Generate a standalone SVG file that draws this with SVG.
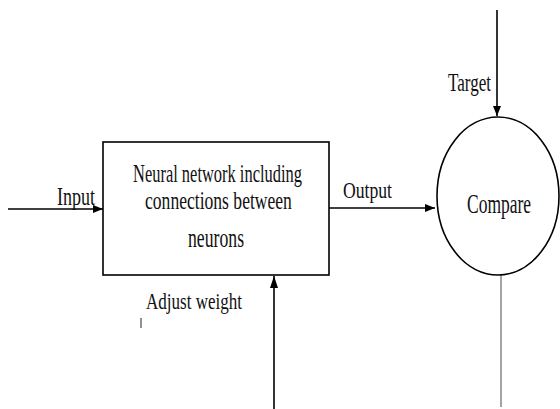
<svg xmlns="http://www.w3.org/2000/svg" width="560" height="409" viewBox="0 0 560 409">
  <defs>
    <marker id="arr" viewBox="0 0 10 8" refX="10" refY="4" markerWidth="10" markerHeight="8" markerUnits="userSpaceOnUse" orient="auto">
      <path d="M0,0 L10,4 L0,8 Z" fill="#000"/>
    </marker>
    <marker id="arrBig" viewBox="0 0 12 8" refX="12" refY="4" markerWidth="12" markerHeight="8" markerUnits="userSpaceOnUse" orient="auto">
      <path d="M0,0 L12,4 L0,8 Z" fill="#000"/>
    </marker>
  </defs>
  <style>
    text { font-family: "Liberation Serif", "Times New Roman", serif; fill: #111; }
    .edge { stroke: #000; stroke-width: 1.6; fill: none; }
    .shape { stroke: #000; stroke-width: 1.6; fill: #fff; }
  </style>
  <rect width="560" height="409" fill="#fff"/>

  <g id="connectors">
    <line class="edge" x1="8" y1="209" x2="103" y2="209" marker-end="url(#arr)"/>
    <line class="edge" x1="329" y1="208" x2="435" y2="208" marker-end="url(#arr)"/>
    <line class="edge" x1="497" y1="10" x2="497" y2="116" marker-end="url(#arr)"/>
    <line class="edge" x1="274" y1="409" x2="274" y2="276" marker-end="url(#arrBig)"/>
    <line x1="501" y1="275" x2="501" y2="407" stroke="#9a9a9a" stroke-width="1.8"/>
    <line x1="141" y1="318" x2="141" y2="328" stroke="#222" stroke-width="1"/>
    <text transform="translate(57,205) scale(0.65,1)" font-size="26" textLength="58.5" lengthAdjust="spacingAndGlyphs">Input</text>
    <text transform="translate(343,198) scale(0.65,1)" font-size="24" textLength="75.4" lengthAdjust="spacingAndGlyphs">Output</text>
    <text transform="translate(448,91) scale(0.65,1)" font-size="26" textLength="66.2" lengthAdjust="spacingAndGlyphs">Target</text>
    <text transform="translate(146,309) scale(0.65,1)" font-size="24" textLength="147.7" lengthAdjust="spacingAndGlyphs">Adjust weight</text>
  </g>

  <g id="network">
    <rect class="shape" x="103" y="142" width="226" height="133"/>
    <text transform="translate(133,182) scale(0.65,1)" font-size="25" textLength="260" lengthAdjust="spacingAndGlyphs">Neural network including</text>
    <text transform="translate(145,209) scale(0.65,1)" font-size="25" textLength="226" lengthAdjust="spacingAndGlyphs">connections between</text>
    <text transform="translate(188,247) scale(0.65,1)" font-size="27" textLength="86.2" lengthAdjust="spacingAndGlyphs">neurons</text>
  </g>

  <g id="compare">
    <ellipse class="shape" cx="498" cy="196" rx="61" ry="79"/>
    <text transform="translate(467,213) scale(0.65,1)" font-size="27" textLength="98.5" lengthAdjust="spacingAndGlyphs">Compare</text>
  </g>
</svg>
